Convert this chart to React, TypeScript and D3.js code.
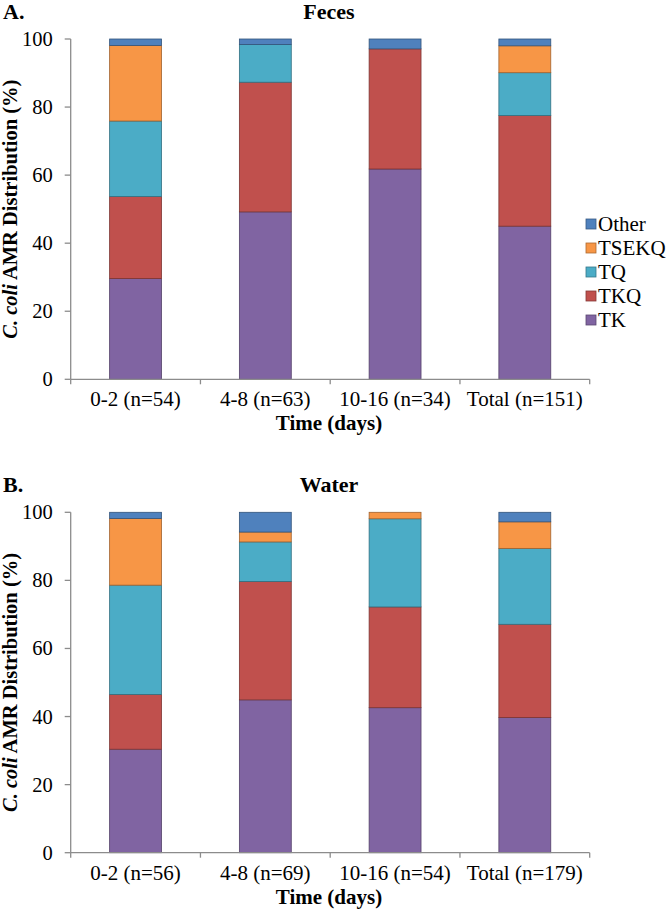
import React from "react";
import * as d3 from "d3";

const keys = ["TK", "TKQ", "TQ", "TSEKQ", "Other"];
const legendOrder = ["Other", "TSEKQ", "TQ", "TKQ", "TK"];
const colors: Record<string, string> = {
  Other: "#4F81BD",
  TSEKQ: "#F79646",
  TQ: "#4BACC6",
  TKQ: "#C0504D",
  TK: "#8064A2",
};

const fecesCategories = ["0-2 (n=54)", "4-8 (n=63)", "10-16 (n=34)", "Total (n=151)"];
const fecesTK = [29.6, 49.2, 61.8, 45.0];
const fecesTKQ = [24.1, 38.1, 35.3, 32.5];
const fecesTQ = [22.2, 11.1, 0, 12.6];
const fecesTSEKQ = [22.2, 0, 0, 7.9];
const fecesOther = [1.9, 1.6, 2.9, 2.0];

const waterCategories = ["0-2 (n=56)", "4-8 (n=69)", "10-16 (n=54)", "Total (n=179)"];
const waterTK = [30.4, 44.9, 42.6, 39.7];
const waterTKQ = [16.1, 34.8, 29.6, 27.4];
const waterTQ = [32.1, 11.6, 25.9, 22.3];
const waterTSEKQ = [19.6, 2.9, 1.9, 7.8];
const waterOther = [1.8, 5.8, 0, 2.8];

const yTicks = [0, 20, 40, 60, 80, 100];

const FONT = "Liberation Serif";
const AXIS_COLOR = "#8c8c8c";

type Row = { cat: string; [k: string]: number | string };

function buildRows(cats: string[], tk: number[], tkq: number[], tq: number[], tsekq: number[], other: number[]): Row[] {
  return cats.map((c, i) => ({ cat: c, TK: tk[i], TKQ: tkq[i], TQ: tq[i], TSEKQ: tsekq[i], Other: other[i] }));
}

const X0 = 70.7;
const X1 = 589.7;

function Panel({
  rows,
  top,
  bottom,
  letter,
  title,
  showLegend,
}: {
  rows: Row[];
  top: number;
  bottom: number;
  letter: string;
  title: string;
  showLegend: boolean;
}) {
  const x = d3
    .scaleBand<string>()
    .domain(rows.map((r) => r.cat))
    .range([X0, X1])
    .paddingInner(0.6)
    .paddingOuter(0.3);
  const y = d3.scaleLinear().domain([0, 100]).range([bottom, top]);
  const series = d3.stack<Row>().keys(keys).value((d, k) => d[k] as number)(rows);
  const step = x.step();
  const boundaries = d3.range(rows.length + 1).map((i) => X0 + i * step);

  return (
    <g fontFamily={FONT}>
      <text x={3} y={top - 20} fontWeight="bold" fontSize={22}>
        {letter}
      </text>
      <text x={329} y={top - 20} fontWeight="bold" fontSize={22} textAnchor="middle">
        {title}
      </text>
      {/* y axis */}
      <line x1={X0} x2={X0} y1={y(100)} y2={y(0)} stroke={AXIS_COLOR} strokeWidth={1.3} />
      {yTicks.map((t) => (
        <g key={t}>
          <line x1={X0 - 6} x2={X0} y1={y(t)} y2={y(t)} stroke={AXIS_COLOR} strokeWidth={1.3} />
          <text x={X0 - 18} y={y(t)} dy="0.34em" textAnchor="end" fontSize={20.5}>
            {t}
          </text>
        </g>
      ))}
      {/* bars */}
      {series.map((s) => (
        <g key={s.key}>
          {s.map((d, i) =>
            d[1] - d[0] > 0 ? (
              <rect
                key={i}
                x={x(d.data.cat as string)}
                width={x.bandwidth()}
                y={y(d[1])}
                height={y(d[0]) - y(d[1])}
                fill={colors[s.key]}
                stroke={d3.color(colors[s.key])!.darker(1.2).toString()}
                strokeWidth={0.8}
              />
            ) : null
          )}
        </g>
      ))}
      {/* x axis */}
      <line x1={X0} x2={X1} y1={y(0)} y2={y(0)} stroke={AXIS_COLOR} strokeWidth={1.3} />
      {boundaries.map((b, i) => (
        <line key={i} x1={b} x2={b} y1={y(0)} y2={y(0) + 5} stroke={AXIS_COLOR} strokeWidth={1.3} />
      ))}
      {rows.map((r) => (
        <text
          key={r.cat}
          x={(x(r.cat) as number) + x.bandwidth() / 2}
          y={y(0) + 27}
          textAnchor="middle"
          fontSize={21}
        >
          {r.cat}
        </text>
      ))}
      <text x={329} y={y(0) + 51} textAnchor="middle" fontWeight="bold" fontSize={21}>
        Time (days)
      </text>
      {/* y label */}
      <text
        transform={`translate(17,${(top + bottom) / 2}) rotate(-90)`}
        textAnchor="middle"
        fontWeight="bold"
        fontSize={20.5}
      >
        <tspan fontStyle="italic">C. coli</tspan>
        <tspan> AMR Distribution (%)</tspan>
      </text>
      {showLegend &&
        legendOrder.map((k, i) => (
          <g key={k} transform={`translate(586,${224 + i * 24})`}>
            <rect x={0} y={-5} width={10} height={10} fill={colors[k]} stroke={d3.color(colors[k])!.darker(1).toString()} strokeWidth={0.8} />
            <text x={12} y={0} dy="0.35em" fontSize={21}>
              {k}
            </text>
          </g>
        ))}
    </g>
  );
}

export default function App() {
  const feces = buildRows(fecesCategories, fecesTK, fecesTKQ, fecesTQ, fecesTSEKQ, fecesOther);
  const water = buildRows(waterCategories, waterTK, waterTKQ, waterTQ, waterTSEKQ, waterOther);
  return (
    <svg
      width={666}
      height={916}
      style={{ position: "absolute", left: 0, top: 0, background: "#fff" }}
    >
      <rect width={666} height={916} fill="#fff" />
      <Panel rows={feces} top={39} bottom={379.3} letter="A." title="Feces" showLegend={true} />
      <Panel rows={water} top={512.3} bottom={852.7} letter="B." title="Water" showLegend={false} />
    </svg>
  );
}
